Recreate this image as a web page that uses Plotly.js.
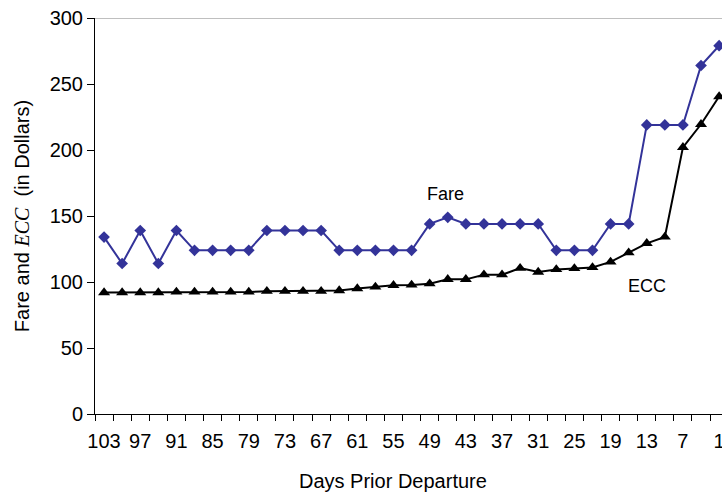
<!DOCTYPE html>
<html>
<head>
<meta charset="utf-8">
<script src="https://cdn.plot.ly/plotly-3.0.1.min.js"></script>
<style>html,body{margin:0;padding:0;background:#fff;}#chart{width:722px;height:495px;}</style>
</head>
<body>
<div id="chart"></div>
<script>
// Days prior to departure (categories)
var days = ["103","100","97","94","91","88","85","82","79","76","73","70","67","64","61","58","55","52","49","46","43","40","37","34","31","28","25","22","19","16","13","10","7","4","1"];
// Labelled ticks
var tickLabels = ["103","97","91","85","79","73","67","61","55","49","43","37","31","25","19","13","7","1"];
// Fare in dollars
var fare = [134,114,139,114,139,124,124,124,124,139,139,139,139,124,124,124,124,124,144,149,144,144,144,144,144,124,124,124,144,144,219,219,219,264,279];
// ECC in dollars
var ecc = [92,92,92,92,92.5,92.5,92.5,92.5,92.5,93,93,93,93,93.5,95,96.3,97.5,97.8,98.7,102,102,105.5,105.5,110.5,107.5,109.5,110.3,111,115.2,122.2,129.3,134.1,202,219.5,240.5];

var FONT = "Liberation Sans, Arial, sans-serif";

var traces = [
  {
    x: days, y: fare, type: "scatter", mode: "lines+markers", name: "Fare",
    line: {color: "#333399", width: 2},
    marker: {symbol: "diamond", size: 9, color: "#333399"},
    cliponaxis: true
  },
  {
    x: days, y: ecc, type: "scatter", mode: "lines+markers", name: "ECC",
    line: {color: "#000000", width: 2},
    marker: {symbol: "triangle-up", size: 10.5, color: "#000000"},
    cliponaxis: true
  }
];

var xr = [-0.5, 34.16];

var layout = {
  width: 722, height: 495,
  margin: {l: 95, r: 0, t: 18, b: 81},
  paper_bgcolor: "#ffffff", plot_bgcolor: "#ffffff",
  showlegend: false,
  font: {family: FONT, size: 20, color: "#000"},
  xaxis: {
    type: "category", range: xr,
    tickmode: "array", tickvals: tickLabels, ticktext: tickLabels,
    ticks: "", showgrid: false, zeroline: false,
    showline: true, linecolor: "#000", linewidth: 1,
    ticklabelstandoff: 9,
    tickfont: {family: FONT, size: 20, color: "#000"},
    fixedrange: true
  },
  xaxis2: {
    overlaying: "x", range: xr, type: "linear",
    tickmode: "linear", tick0: -0.5, dtick: 1,
    ticks: "outside", ticklen: 6, tickcolor: "#000", tickwidth: 1,
    showticklabels: false, showgrid: false, zeroline: false, showline: false,
    anchor: "y", side: "bottom"
  },
  yaxis: {
    range: [0, 300], tickmode: "linear", tick0: 0, dtick: 50,
    ticks: "outside", ticklen: 7, tickcolor: "#000",
    showgrid: false, zeroline: false,
    showline: true, linecolor: "#000", linewidth: 1,
    tickfont: {family: FONT, size: 20, color: "#000"},
    title: {
      text: "Fare and <span style=\"font-family:'Liberation Serif',serif\"><i>ECC</i></span>  (in Dollars)",
      font: {family: FONT, size: 20, color: "#000"},
      standoff: 14
    }
  },
  shapes: [
    {type: "line", xref: "paper", yref: "y", x0: 0, x1: 1, y0: 300, y1: 300,
     line: {color: "#808080", width: 1}}
  ],
  annotations: [
    {xref: "x2", yref: "y", x: 18.85, y: 166.4, text: "Fare", showarrow: false,
     font: {family: FONT, size: 18, color: "#000"}},
    {xref: "x2", yref: "y", x: 30.0, y: 97.1, text: "ECC", showarrow: false,
     font: {family: FONT, size: 18, color: "#000"}},
    {xref: "paper", yref: "paper", x: 0.475, y: 0, yshift: -67, text: "Days Prior Departure",
     showarrow: false, xanchor: "center", yanchor: "middle",
     font: {family: FONT, size: 20, color: "#000"}}
  ]
};

// dummy trace to activate xaxis2
traces.push({x: [0], y: [null], xaxis: "x2", yaxis: "y", type: "scatter", mode: "markers", hoverinfo: "skip", showlegend: false});

Plotly.newPlot("chart", traces, layout, {displayModeBar: false, staticPlot: true});
</script>
</body>
</html>
